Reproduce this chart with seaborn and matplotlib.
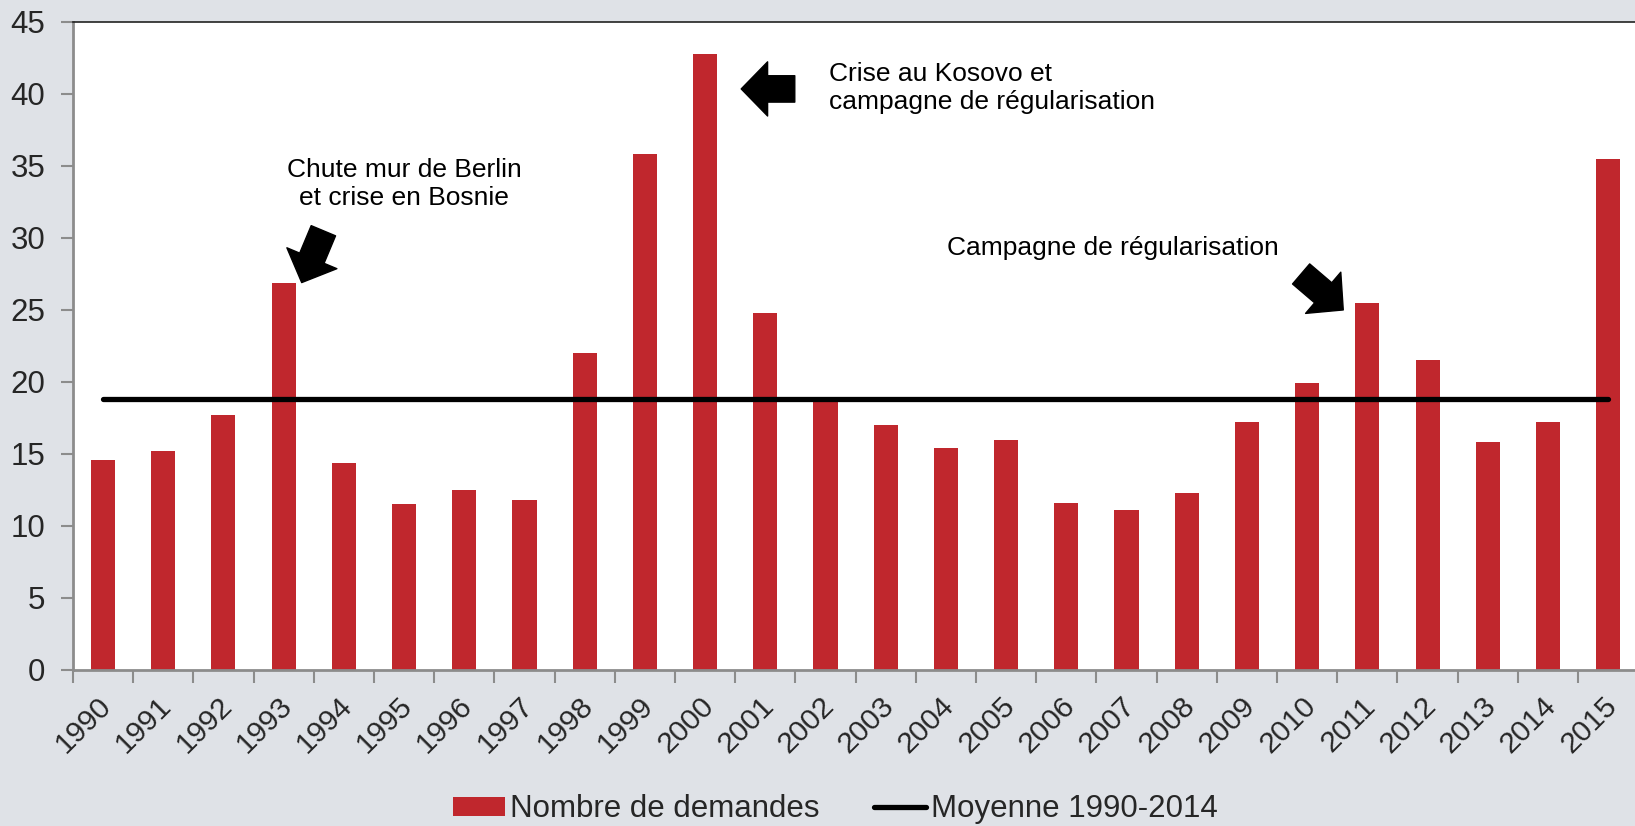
import numpy as np
import pandas as pd
import matplotlib.pyplot as plt
import matplotlib.transforms as mtransforms
import seaborn as sns
from matplotlib.patches import Patch
from matplotlib.lines import Line2D

# -------------------------------
# DATA
# -------------------------------
years = [str(y) for y in range(1990, 2016)]
demandes = [14.6, 15.2, 17.7, 26.9, 14.4, 11.5, 12.5, 11.8, 22.0, 35.8,
            42.8, 24.8, 18.7, 17.0, 15.4, 16.0, 11.6, 11.1, 12.3, 17.2,
            19.9, 25.5, 21.5, 15.8, 17.2, 35.5]
moyenne = 18.8  # moyenne 1990-2014
legend_labels = ["Nombre de demandes", "Moyenne 1990-2014"]

df = pd.DataFrame({"annee": years, "demandes": demandes})

# -------------------------------
# STYLE
# -------------------------------
sns.set_style("white")
plt.rcParams["font.family"] = ["Liberation Sans", "DejaVu Sans"]

bg = "#DFE2E7"
red = "#C0272D"
grey = "#8C8C8C"

fig = plt.figure(figsize=(16.35, 8.26), dpi=100, facecolor=bg)
ax = fig.add_axes([0.0446, 0.189, 0.9574, 0.7844])
ax.set_facecolor("white")

# -------------------------------
# PLOT
# -------------------------------
sns.barplot(data=df, x="annee", y="demandes", color=red, saturation=1,
            width=0.4, edgecolor="none", ax=ax)

xpos = np.arange(len(years))
sns.lineplot(x=xpos, y=[moyenne] * len(years), color="black", lw=3.8,
             solid_capstyle="round", ax=ax)

ax.set_xlim(-0.5, len(years) - 0.5)
ax.set_ylim(0, 45)
ax.set_yticks(np.arange(0, 46, 5))
ax.set_xlabel("")
ax.set_ylabel("")

# ticks
ax.tick_params(axis="y", labelsize=22.5, length=9, width=1.5, color=grey,
               direction="out", pad=11, left=True)
ax.set_xticks(xpos)
ax.set_xticklabels(years, rotation=45, ha="right", va="center",
                   rotation_mode="anchor")
ax.tick_params(axis="x", which="major", labelsize=21.5, length=0, pad=23)
ax.set_xticks(np.arange(-0.5, len(years), 1), minor=True)
ax.tick_params(axis="x", which="minor", length=9, width=1.5, color=grey,
               direction="out", bottom=True)

# nudge year labels a little to the right
shift = mtransforms.ScaledTranslation(3 / 72, 0, fig.dpi_scale_trans)
for lab in ax.get_xticklabels():
    lab.set_transform(lab.get_transform() + shift)

for s in ["left", "bottom"]:
    ax.spines[s].set_color(grey)
    ax.spines[s].set_linewidth(2)
ax.spines["top"].set_color("#222222")
ax.spines["top"].set_linewidth(1.2)
ax.spines["right"].set_visible(False)

# -------------------------------
# ANNOTATIONS
# -------------------------------
txt_kw = dict(fontsize=19, color="black", linespacing=1.2)
ax.text(5.0, 33.75, "Chute mur de Berlin\net crise en Bosnie",
        ha="center", va="center", multialignment="center", **txt_kw)
ax.text(12.06, 40.4, "Crise au Kosovo et\ncampagne de régularisation",
        ha="left", va="center", **txt_kw)
ax.text(14.02, 29.3, "Campagne de régularisation",
        ha="left", va="center", **txt_kw)

arrow = dict(arrowstyle="simple,head_length=0.95,head_width=1.95,tail_width=0.95",
             fc="black", ec="black", mutation_scale=20, shrinkA=0, shrinkB=0)
ax.annotate("", xy=(3.30, 26.9), xytext=(3.66, 30.5), arrowprops=arrow)
ax.annotate("", xy=(10.6, 40.35), xytext=(11.49, 40.35), arrowprops=arrow)
ax.annotate("", xy=(20.6, 25.0), xytext=(19.9, 27.5), arrowprops=arrow)

# -------------------------------
# LEGEND
# -------------------------------
handles = [Patch(facecolor=red, edgecolor="none"),
           Line2D([0], [0], color="black", lw=3.8, solid_capstyle="round")]
fig.legend(handles, legend_labels, loc="center", bbox_to_anchor=(0.511, 0.02),
           ncol=2, frameon=False, handlelength=1.66, handleheight=0.55,
           handletextpad=0.16, columnspacing=1.75,
           prop={"family": "Liberation Sans", "size": 22.5})

fig.savefig("out.png", dpi=100, facecolor=bg)
